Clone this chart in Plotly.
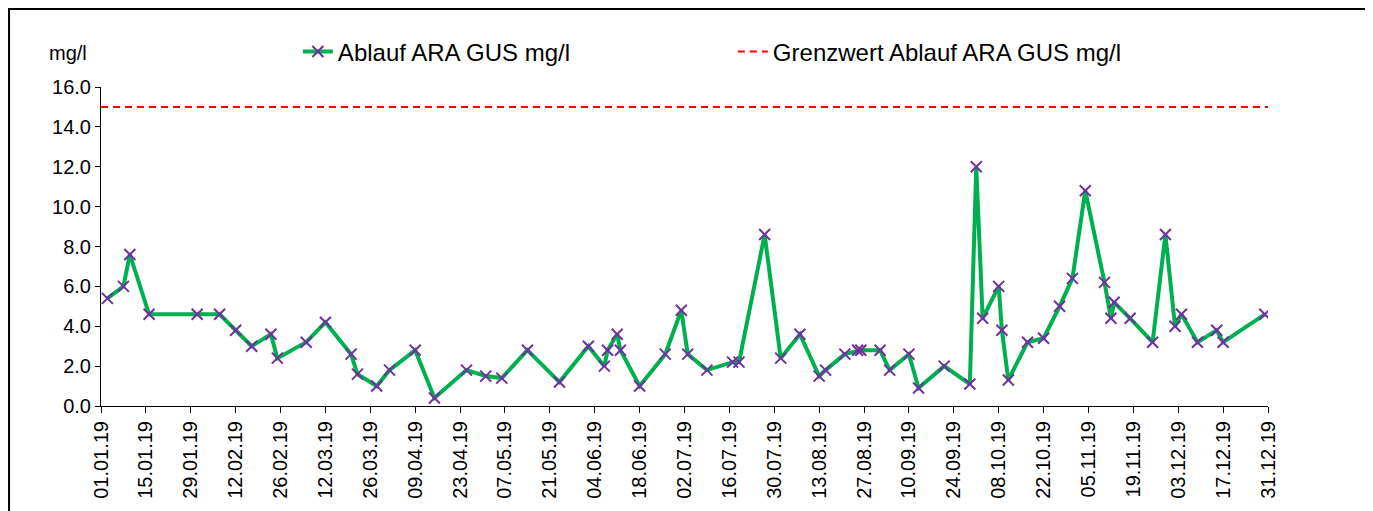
"""Ablauf ARA GUS 2019 - line chart with limit value."""
import pandas as pd
import plotly.graph_objects as go

# measurement dates (dd.mm.yy) and values in mg/l
dates = [
    "03.01.19", "08.01.19", "10.01.19", "16.01.19", "31.01.19", "07.02.19",
    "12.02.19", "17.02.19", "23.02.19", "25.02.19", "06.03.19", "12.03.19",
    "20.03.19", "22.03.19", "28.03.19", "01.04.19", "09.04.19", "15.04.19",
    "25.04.19", "01.05.19", "06.05.19", "14.05.19", "24.05.19", "02.06.19",
    "07.06.19", "08.06.19", "11.06.19", "12.06.19", "18.06.19", "26.06.19",
    "01.07.19", "03.07.19", "09.07.19", "17.07.19", "19.07.19", "27.07.19",
    "01.08.19", "07.08.19", "13.08.19", "15.08.19", "21.08.19", "25.08.19",
    "26.08.19", "01.09.19", "04.09.19", "10.09.19", "13.09.19", "21.09.19",
    "29.09.19", "01.10.19", "03.10.19", "08.10.19", "09.10.19", "11.10.19",
    "17.10.19", "22.10.19", "27.10.19", "31.10.19", "04.11.19", "10.11.19",
    "12.11.19", "13.11.19", "18.11.19", "25.11.19", "29.11.19", "02.12.19",
    "04.12.19", "09.12.19", "15.12.19", "17.12.19", "30.12.19",
]
ablauf = [
    5.4, 6.0, 7.6, 4.6, 4.6, 4.6,
    3.8, 3.0, 3.6, 2.4, 3.2, 4.2,
    2.6, 1.6, 1.0, 1.8, 2.8, 0.4,
    1.8, 1.5, 1.4, 2.8, 1.2, 3.0,
    2.0, 2.8, 3.6, 2.8, 1.0, 2.6,
    4.8, 2.6, 1.8, 2.2, 2.2, 8.6,
    2.4, 3.6, 1.5, 1.8, 2.6, 2.8,
    2.8, 2.8, 1.8, 2.6, 0.9, 2.0,
    1.1, 12.0, 4.4, 6.0, 3.8, 1.3,
    3.2, 3.4, 5.0, 6.4, 10.8, 6.2,
    4.4, 5.2, 4.4, 3.2, 8.6, 4.0,
    4.6, 3.2, 3.8, 3.2, 4.6,
]

grenz_dates = ["01.01.19", "31.12.19"]
grenzwert = [15.0, 15.0]

x = pd.to_datetime(dates, format="%d.%m.%y")
xg = pd.to_datetime(grenz_dates, format="%d.%m.%y")

FONT = "Liberation Sans, Arial, sans-serif"

fig = go.Figure()

fig.add_trace(go.Scatter(
    x=x, y=ablauf,
    mode="lines+markers",
    name="Ablauf ARA GUS mg/l",
    line=dict(color="#00B050", width=4),
    marker=dict(symbol="x-thin", size=11, color="#7030A0",
                line=dict(color="#7030A0", width=2)),
))

fig.add_trace(go.Scatter(
    x=xg, y=grenzwert,
    mode="lines",
    name="Grenzwert Ablauf ARA GUS mg/l",
    line=dict(color="#FF0000", width=2, dash="7px,5px"),
))

# page body has an 8px margin, so the figure is sized to fit the window
fig.update_layout(
    width=1365, height=503,
    margin=dict(l=93, r=105, t=79, b=105, autoexpand=False),
    paper_bgcolor="white",
    plot_bgcolor="white",
    font=dict(family=FONT, size=20, color="black"),
    showlegend=True,
    legend=dict(
        orientation="h",
        x=0.1687, xanchor="left",
        y=1.11, yanchor="middle",
        font=dict(size=24),
        entrywidth=390, entrywidthmode="pixels",
        bgcolor="rgba(0,0,0,0)",
    ),
    annotations=[dict(
        text="mg/l", xref="paper", yref="paper",
        x=-0.028, y=1.107, showarrow=False,
        font=dict(size=20), xanchor="center", yanchor="middle",
    )],
    shapes=[dict(
        type="rect", xref="paper", yref="paper",
        x0=-0.0788, x1=1.084, y0=-0.4, y1=1.2445,
        line=dict(color="black", width=2), layer="below",
    )],
)

fig.update_xaxes(
    type="date",
    range=["2019-01-01", "2019-12-31"],
    tick0="2019-01-01",
    dtick=14 * 86400000,
    tickformat="%d.%m.%y",
    tickangle=-90,
    ticks="outside", ticklen=6, tickcolor="black", tickwidth=1,
    showline=True, linecolor="black", linewidth=1,
    showgrid=False, zeroline=False, automargin=False,
    tickfont=dict(size=20),
)

fig.update_yaxes(
    range=[0, 16],
    dtick=2,
    tickformat=".1f",
    ticks="outside", ticklen=5, tickcolor="black", tickwidth=1,
    showline=True, linecolor="black", linewidth=1,
    showgrid=False, zeroline=False, automargin=False,
    tickfont=dict(size=20),
)

fig.write_html("out.html")
